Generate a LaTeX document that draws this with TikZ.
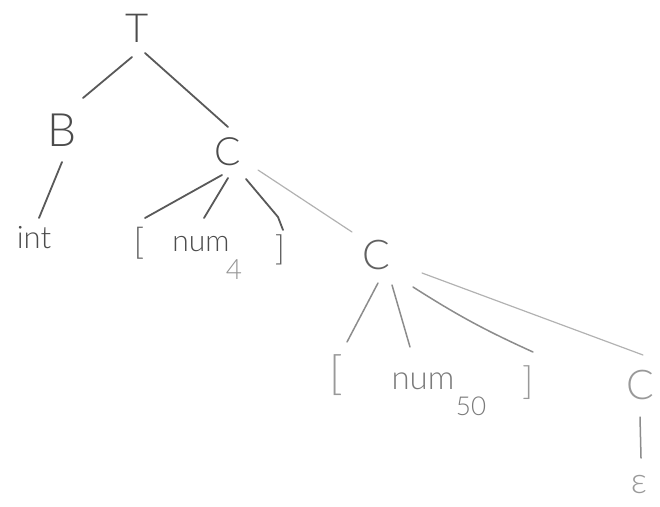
\documentclass[tikz,border=0pt]{standalone}
\usepackage{fontspec}
\setmainfont{Lato}[UprightFont={* Light}]
\begin{document}
\begin{tikzpicture}[x=1pt,y=-1pt,
  sym/.style={inner sep=0pt,anchor=center,text=#1},
  sym/.default={black!70},
  dk/.style={draw=black!65,line width=1.8pt,line cap=round,line join=round},
  md/.style={draw=black!45,line width=1.5pt,line cap=round,line join=round},
  lt/.style={draw=black!30,line width=1.2pt,line cap=round}]
\useasboundingbox (0,0) rectangle (660,506);

% upper part of the tree
\node[sym,font=\fontsize{40}{40}\selectfont] (T) at (137,28) {T};
\node[sym,font=\fontsize{46}{46}\selectfont] (B) at (62,130) {B};
\node[sym,font=\fontsize{39}{39}\selectfont] (C1) at (228,152) {C};
\node[sym,font=\fontsize{31}{31}\selectfont] (int) at (34,238) {int};
\node[sym=black!62,font=\fontsize{36}{36}\selectfont] (l1) at (139,243) {[};
\node[sym,font=\fontsize{30}{30}\selectfont] (num1) at (201,244) {num};
\node[sym=black!42,font=\fontsize{28}{28}\selectfont] (four) at (234,270) {4};
\node[sym=black!62,font=\fontsize{34}{34}\selectfont] (r1) at (280,250) {]};

% lower part of the tree
\node[sym=black!62,font=\fontsize{41}{41}\selectfont] (C2) at (376,255) {C};
\node[sym=black!40,font=\fontsize{46}{46}\selectfont] (l2) at (336,375) {[};
\node[sym=black!52,font=\fontsize{33}{33}\selectfont] (num2) at (423,381) {num};
\node[sym=black!52,font=\fontsize{26}{26}\selectfont] (fifty) at (471,406) {50};
\node[sym=black!40,font=\fontsize{38}{38}\selectfont] (r2) at (528,383) {]};
\node[sym=black!40,font=\fontsize{41}{41}\selectfont] (C3) at (640,385) {C};
\node[sym=black!40,font=\fontsize{36}{36}\selectfont] (eps) at (639,484) {ε};

% connectors
\draw[dk] ([shift={(-5,29)}]T.center) -- ([shift={(21,-32)}]B.center);
\draw[dk] ([shift={(8,25)}]T.center) -- ([shift={(0,-25)}]C1.center);
\draw[dk] ([shift={(0,32)}]B.center) -- ([shift={(5,-20)}]int.center);
\draw[dk] ([shift={(-6,23)}]C1.center) -- ([shift={(6,-25)}]l1.center);
\draw[dk] ([shift={(0,26)}]C1.center) -- ([shift={(3,-26)}]num1.center);
\draw[dk] ([shift={(18,27)}]C1.center) -- ([shift={(-2,-33)}]r1.center) -- ([shift={(3,-20)}]r1.center);
\draw[lt] ([shift={(30,18)}]C1.center) -- ([shift={(-24,-23)}]C2.center);
\draw[md] ([shift={(2,28)}]C2.center) -- ([shift={(11,-33)}]l2.center);
\draw[md] ([shift={(16,30)}]C2.center) -- ([shift={(-13,-34)}]num2.center);
\draw[md] ([shift={(37,32)}]C2.center) to[bend right=4] ([shift={(5,-31)}]r2.center);
\draw[lt] ([shift={(46,18)}]C2.center) -- ([shift={(3,-30)}]C3.center);
\draw[md] ([shift={(0,32)}]C3.center) -- ([shift={(2,-26)}]eps.center);
\end{tikzpicture}
\end{document}
